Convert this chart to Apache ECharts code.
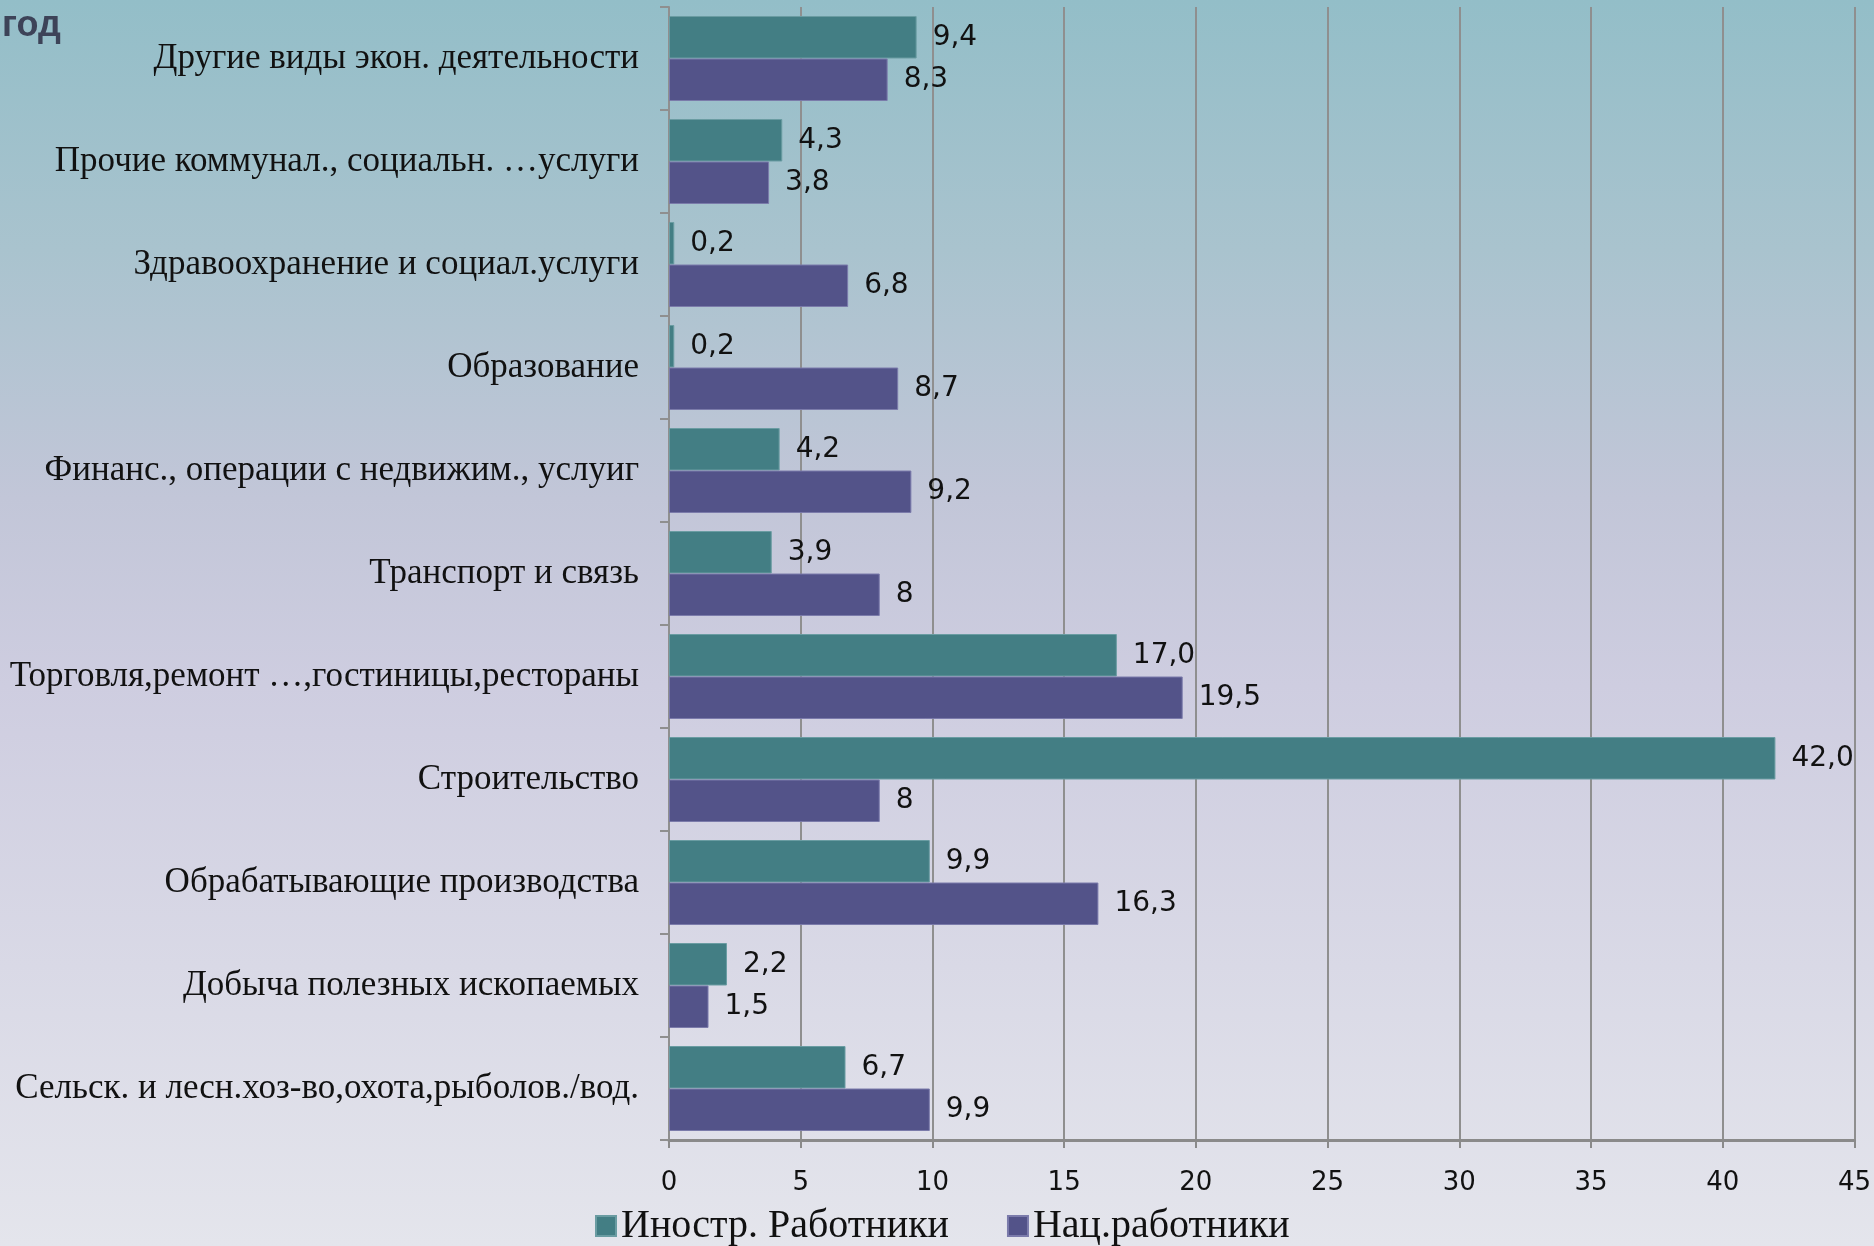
<!DOCTYPE html>
<html><head><meta charset="utf-8">
<script src="https://cdn.jsdelivr.net/npm/echarts@6/dist/echarts.min.js"></script>
<style>html,body{margin:0;padding:0;}#c{width:1874px;height:1246px;}</style>
</head><body><div id="c"></div>
<script>
const categories = [
  'Другие виды экон. деятельности',
  'Прочие коммунал., социальн. …услуги',
  'Здравоохранение и социал.услуги',
  'Образование',
  'Финанс., операции с недвижим., услуиг',
  'Транспорт и связь',
  'Торговля,ремонт …,гостиницы,рестораны',
  'Строительство',
  'Обрабатывающие производства',
  'Добыча полезных ископаемых',
  'Сельск. и лесн.хоз-во,охота,рыболов./вод.'
];
const foreignWorkers = [9.4, 4.3, 0.2, 0.2, 4.2, 3.9, 17.0, 42.0, 9.9, 2.2, 6.7];
const nationalWorkers = [8.3, 3.8, 6.8, 8.7, 9.2, 8, 19.5, 8, 16.3, 1.5, 9.9];
const seriesNames = ['Иностр. Работники', 'Нац.работники'];
const xTicks = [0, 45, 5]; // min, max, interval

const chart = echarts.init(document.getElementById('c'));
const labelFont = {fontFamily: 'DejaVu Sans', fontSize: 28, color: '#111'};
chart.setOption({
  backgroundColor: {
    type: 'linear', x: 0, y: 0, x2: 0, y2: 1,
    colorStops: [
      {offset: 0, color: '#93bec8'},
      {offset: 0.2, color: '#a9c3ce'},
      {offset: 0.4, color: '#c2c6d8'},
      {offset: 0.55, color: '#cecde0'},
      {offset: 1, color: '#e4e5ec'}
    ]
  },
  animation: false,
  graphic: [{
    type: 'text', left: 2, top: 8,
    style: {text: 'год', font: 'bold 36px "Liberation Sans"', fill: '#3d4358'}
  }],
  grid: {left: 669, right: 17, top: 7, bottom: 106, containLabel: false},
  legend: {
    left: 590, top: 1201,
    itemWidth: 20, itemHeight: 20, itemGap: 58,
    icon: 'rect',
    textStyle: {fontFamily: 'Liberation Serif', fontSize: 40, color: '#111'},
    data: seriesNames
  },
  xAxis: {
    type: 'value', min: xTicks[0], max: xTicks[1], interval: xTicks[2],
    axisLine: {show: true, lineStyle: {color: '#8a8a8a', width: 3}},
    axisTick: {show: true, length: 8, lineStyle: {color: '#8a8a8a', width: 2}},
    axisLabel: {margin: 30, fontFamily: 'DejaVu Sans', fontSize: 26, color: '#111'},
    splitLine: {show: true, lineStyle: {color: '#8f8f8f', width: 2}}
  },
  yAxis: {
    type: 'category', data: categories, inverse: true,
    axisLine: {show: true, lineStyle: {color: '#8f8f8f', width: 2}},
    axisTick: {show: true, length: 9, lineStyle: {color: '#8f8f8f', width: 2}},
    axisLabel: {margin: 30, fontFamily: 'Liberation Serif', fontSize: 35, color: '#111'}
  },
  series: [
    {
      name: seriesNames[0], type: 'bar', data: foreignWorkers,
      barGap: '0%', barCategoryGap: '17.5%',
      itemStyle: {color: '#437e84', borderColor: '#6a9ca2', borderWidth: 1},
      label: Object.assign({show: true, position: 'right', distance: 16,
        formatter: p => p.value.toFixed(1).replace('.', ',')}, labelFont)
    },
    {
      name: seriesNames[1], type: 'bar', data: nationalWorkers,
      barGap: '0%', barCategoryGap: '17.5%',
      itemStyle: {color: '#535389', borderColor: '#7b7bab', borderWidth: 1},
      label: Object.assign({show: true, position: 'right', distance: 16,
        formatter: p => String(p.value).replace('.', ',')}, labelFont)
    }
  ]
});
</script></body></html>
